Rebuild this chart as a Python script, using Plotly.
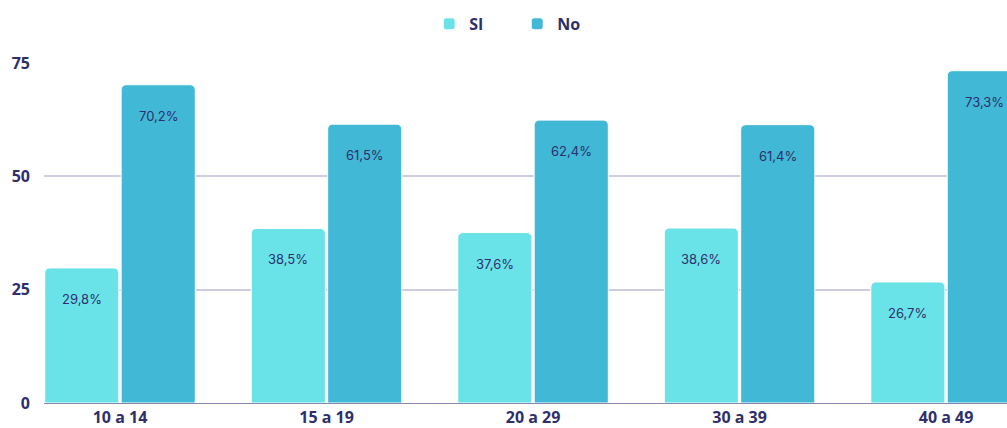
import plotly.graph_objects as go

categories = ["10 a 14", "15 a 19", "20 a 29", "30 a 39", "40 a 49"]
si_values = [29.8, 38.5, 37.6, 38.6, 26.7]
no_values = [70.2, 61.5, 62.4, 61.4, 73.3]
y_ticks = [0, 25, 50, 75]

NAVY = "#2e2f6b"
SI_COLOR = "#6ae3e8"
NO_COLOR = "#41b8d6"
BAR_GAP = 0.26

x_pos = list(range(len(categories)))


def pct(v):
    return f"{v:.1f}%".replace(".", ",")


fig = go.Figure()
fig.add_trace(go.Bar(name="SI", x=x_pos, y=si_values, marker_color=SI_COLOR,
                     marker_line=dict(color="white", width=1), hoverinfo="skip"))
fig.add_trace(go.Bar(name="No", x=x_pos, y=no_values, marker_color=NO_COLOR,
                     marker_line=dict(color="white", width=1), hoverinfo="skip"))

# value labels sit a little below the top of each bar
half = (1 - BAR_GAP) / 4
for i, (s, n) in enumerate(zip(si_values, no_values)):
    for xv, v in ((i - half, s), (i + half, n)):
        fig.add_annotation(x=xv, y=v, text=pct(v), showarrow=False, yshift=-31,
                           font=dict(family="Inter, Lato, sans-serif", size=13, color=NAVY))

fig.update_layout(
    width=1007, height=428,
    margin=dict(l=44, r=0, t=63, b=25, autoexpand=False),
    paper_bgcolor="white", plot_bgcolor="white",
    barmode="group", bargap=BAR_GAP, bargroupgap=0.03, barcornerradius=5,
    font=dict(family="Open Sans, Noto Sans, sans-serif", color=NAVY),
    legend=dict(orientation="h", x=0.4, xanchor="left",
                y=1.115, yanchor="middle", entrywidth=43,
                font=dict(size=16, color=NAVY, weight="bold")),
    showlegend=True,
)
fig.update_xaxes(
    range=[-0.368, 4.295], tickvals=x_pos, ticktext=categories,
    showgrid=False, zeroline=False, showline=False,
    tickfont=dict(size=16, color=NAVY, weight="bold"), ticklabelstandoff=3,
)
fig.update_yaxes(
    range=[0, 75], tickvals=y_ticks, showgrid=True, gridcolor="#cdcddf", gridwidth=2,
    zeroline=True, zerolinecolor="#8a87b0", zerolinewidth=1.2, showline=False,
    tickfont=dict(size=16, color=NAVY, weight="bold"), ticklabelstandoff=13,
)

fig.write_html("out.html", config={"displayModeBar": False},
               post_script="document.body.style.margin='0';document.body.style.overflow='hidden';")
